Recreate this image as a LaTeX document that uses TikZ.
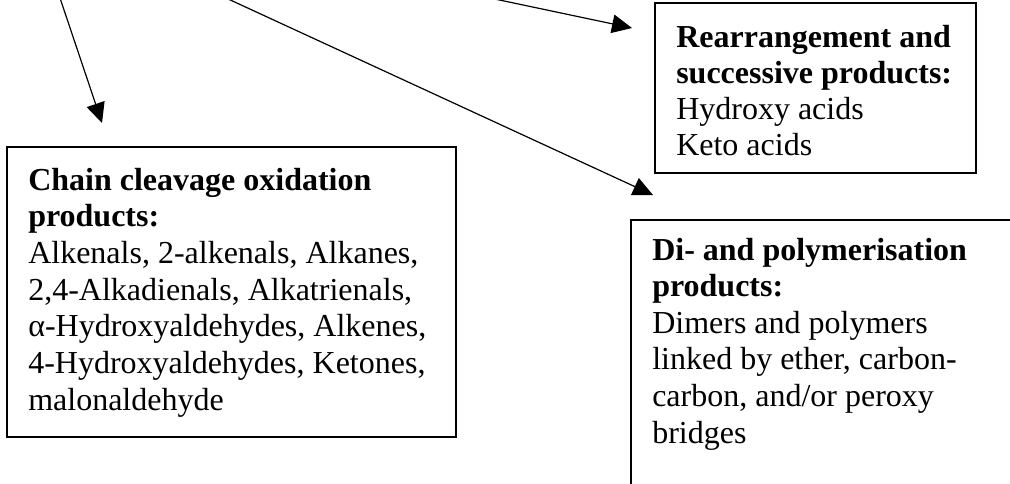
\documentclass[tikz,border=0pt]{standalone}
\usepackage{fontspec}
\setmainfont{Liberation Serif}
\usetikzlibrary{arrows.meta,fit}
\begin{document}
\begin{tikzpicture}[x=0.75pt,y=-0.75pt,
  box/.style={draw, line width=1.1pt, inner sep=0pt},
  txt/.style={anchor=base west, inner sep=0pt, font=\fontsize{24}{28}\selectfont},
  hd/.style={anchor=base west, inner sep=0pt, font=\fontsize{24}{28}\selectfont\bfseries},
  arr/.style={line width=0.9pt, -{Triangle[length=15pt,width=14pt]}}]
\useasboundingbox (0,0) rectangle (1010,483);
\clip (0,0) rectangle (1010,483);
% boxes
\node[box, fit={(7,147) (456,437)}] (chain) {};
\node[box, fit={(655,3) (976,173)}] (rearr) {};
\node[box, fit={(631,220) (1040,530)}] (poly) {};
% arrows
\coordinate (a1s) at (60,-2);
\coordinate (a1e) at (102,123);
\coordinate (a2s) at (226,-2);
\coordinate (a2e) at (653,195);
\coordinate (a3s) at (490,-2);
\coordinate (a3e) at (632,28);
\draw[arr] (a1s) -- (a1e);
\draw[arr] (a2s) -- (a2e);
\draw[arr] (a3s) -- (a3e);
% chain text
\node[hd]  (c1) at (28,190)   {Chain cleavage oxidation};
\node[hd]  (c2) at (28,226.7) {products:};
\node[txt] (c3) at (28,263.3) {Alkenals, 2-alkenals, Alkanes,};
\node[txt] (c4) at (28,300)   {2,4-Alkadienals, Alkatrienals,};
\node[txt] (c5) at (28,336.7) {α-Hydroxyaldehydes, Alkenes,};
\node[txt] (c6) at (28,373.3) {4-Hydroxyaldehydes, Ketones,};
\node[txt] (c7) at (28,410)   {malonaldehyde};
% rearrangement text
\node[hd]  (r1) at (676,47)  {Rearrangement and};
\node[hd]  (r2) at (676,83)  {successive products:};
\node[txt] (r3) at (676,119) {Hydroxy acids};
\node[txt] (r4) at (676,155) {Keto acids};
% polymerisation text
\node[hd]  (p1) at (652,260)   {Di- and polymerisation};
\node[hd]  (p2) at (652,296.6) {products:};
\node[txt] (p3) at (652,333.2) {Dimers and polymers};
\node[txt] (p4) at (652,369.8) {linked by ether, carbon-};
\node[txt] (p5) at (652,406.4) {carbon, and/or peroxy};
\node[txt] (p6) at (652,443)   {bridges};
\end{tikzpicture}
\end{document}
